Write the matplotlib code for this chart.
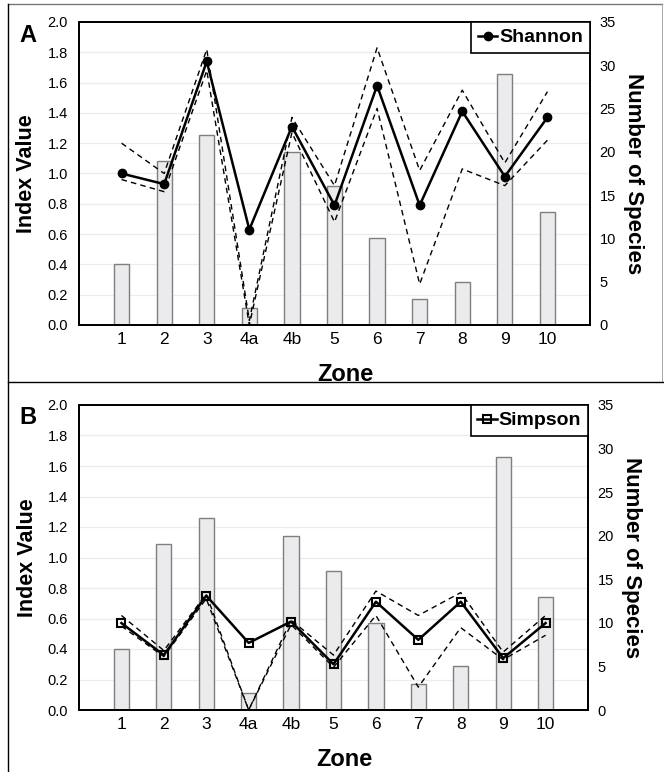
import numpy as np
import matplotlib
matplotlib.use('Agg')
import matplotlib.pyplot as plt
from matplotlib.lines import Line2D

plt.rcParams['font.family'] = ['Liberation Sans', 'DejaVu Sans']

zonas = ["1", "2", "3", "4a", "4b", "5", "6", "7", "8", "9", "10"]
especies = [7, 19, 22, 2, 20, 16, 10, 3, 5, 29, 13]

shannon = [1.00, 0.93, 1.74, 0.63, 1.31, 0.79, 1.58, 0.79, 1.41, 0.98, 1.37]
shannon_sup = [1.20, 1.00, 1.82, 0.03, 1.37, 0.92, 1.83, 1.02, 1.55, 1.07, 1.54]
shannon_inf = [0.96, 0.88, 1.68, 0.00, 1.27, 0.68, 1.43, 0.27, 1.03, 0.92, 1.22]

simpson = [0.57, 0.36, 0.75, 0.44, 0.58, 0.30, 0.71, 0.46, 0.71, 0.34, 0.57]
simpson_sup = [0.62, 0.39, 0.76, 0.00, 0.59, 0.36, 0.78, 0.62, 0.77, 0.38, 0.62]
simpson_inf = [0.55, 0.35, 0.73, 0.00, 0.56, 0.28, 0.62, 0.15, 0.54, 0.33, 0.49]

W, H = 664, 772


def painel(fig, caixa, letra, indice, sup, inf, marcador, nome):
    x0, y0, x1, y1 = caixa
    ax = fig.add_axes([x0 / W, 1 - y1 / H, (x1 - x0) / W, (y1 - y0) / H])
    x = np.arange(len(zonas))

    # barras (numero de especies) no eixo da direita
    ax.bar(x, especies, width=0.36, color="#ebebed", edgecolor="#7f7f7f",
           linewidth=1.0, zorder=2)
    ax.set_ylim(0, 35)
    ax.set_xlim(-1, len(zonas))
    ax.set_yticks(np.arange(0, 36, 5))
    ax.set_yticks(np.arange(0, 35.1, 3.5), minor=True)
    ax.grid(True, which="minor", axis="y", color="#ececec", linewidth=0.9, zorder=0)
    ax.set_axisbelow(True)
    ax.set_xticks(x)
    ax.set_xticklabels(zonas, fontsize=12.5)
    ax.set_xlabel("Zone", fontsize=17, fontweight="bold")
    ax.xaxis.set_label_coords(0.522, -0.125)

    # indice no eixo da esquerda
    ax2 = ax.twinx()
    ax.yaxis.tick_right()
    ax.yaxis.set_label_position("right")
    ax2.yaxis.tick_left()
    ax2.yaxis.set_label_position("left")
    ax.tick_params(axis="x", length=0, pad=5)
    ax.tick_params(axis="y", which="both", length=0, pad=7, labelsize=10.5,
                   left=False, labelleft=False, right=True, labelright=True)
    ax.set_ylabel("Number of Species", fontsize=16, fontweight="bold",
                  rotation=270, va="center")
    ax.yaxis.set_label_coords(1.086, 0.5)

    ax2.set_ylim(0, 2.0)
    ax2.set_yticks(np.arange(0, 2.01, 0.2))
    ax2.set_yticklabels([f"{v:.1f}" for v in np.arange(0, 2.01, 0.2)])
    ax2.tick_params(axis="y", length=0, pad=8, labelsize=10.5,
                    right=False, labelright=False, left=True, labelleft=True)
    ax2.plot(x, sup, color="black", linestyle=(0, (4, 3)), linewidth=1.0)
    ax2.plot(x, inf, color="black", linestyle=(0, (4, 3)), linewidth=1.0)
    if marcador == "o":
        ax2.plot(x, indice, color="black", linewidth=1.8, marker="o",
                 markersize=6, label=nome)
    else:
        ax2.plot(x, indice, color="black", linewidth=1.8, marker="s",
                 markersize=6, markerfacecolor="none", markeredgewidth=1.5,
                 label=nome)
    ax2.set_ylabel("Index Value", fontsize=15.5, fontweight="bold", va="center")
    ax2.yaxis.set_label_coords(-0.102, 0.5)

    for a in (ax, ax2):
        for s in a.spines.values():
            s.set_linewidth(1.3)
            s.set_color("black")

    leg = ax2.legend(loc="upper right", bbox_to_anchor=(1, 1), borderaxespad=0,
                     fancybox=False, framealpha=1, edgecolor="black",
                     handlelength=1.0, handletextpad=0.1, borderpad=0.35,
                     prop={"weight": "bold", "size": 14})
    leg.get_frame().set_linewidth(1.2)

    fig.text(28 / W, 1 - (y0 + 13) / H, letra, fontsize=17,
             fontweight="bold", ha="center", va="center")


fig = plt.figure(figsize=(W / 100, H / 100), dpi=100)

painel(fig, (79, 22, 590, 325), "A", shannon, shannon_sup, shannon_inf, "o", "Shannon")
painel(fig, (79, 405, 588, 710), "B", simpson, simpson_sup, simpson_inf, "s", "Simpson")


# molduras dos paineis
def linha(xs, ys, cor="black", lw=1.0):
    fig.add_artist(Line2D([v / W for v in xs], [1 - v / H for v in ys],
                          color=cor, linewidth=lw))


linha([8, 662], [4, 4], cor="#777777")
linha([8, 8], [4, 772])
linha([662, 662], [4, 382], cor="#999999", lw=0.6)
linha([8, 663], [382, 382])

fig.savefig("out.png", dpi=100)
